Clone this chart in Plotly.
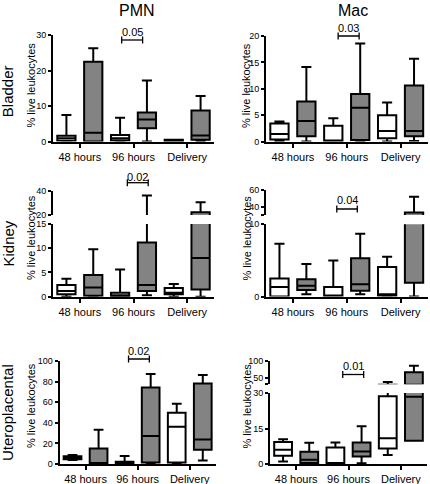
import plotly.graph_objects as go

W, H = 430, 484

categories = ["48 hours", "96 hours", "Delivery"]
col_titles = ["PMN", "Mac"]
row_titles = ["Bladder", "Kidney", "Uteroplacental"]
y_title = "% live leukocytes"

# each entry: [lower whisker, Q1, median, Q3, upper whisker] for 48 hours, 96 hours, Delivery
# "ctrl" = white boxes, "inf" = grey boxes
pmn_bladder_ctrl = [[0, 0.2, 0.9, 1.6, 7.5], [0, 0.3, 0.9, 1.8, 6.7], [0, 0.1, 0.3, 0.5, 0.5]]
pmn_bladder_inf = [[0, 0, 2.5, 22.5, 26.3], [0, 3.7, 6.2, 8.2, 17.2], [0, 0.5, 1.7, 8.7, 12.8]]
mac_bladder_ctrl = [[0, 0.4, 1.4, 3.4, 3.8], [0, 0, 0, 3.0, 4.4], [0, 0.6, 2.0, 5.0, 7.4]]
mac_bladder_inf = [[0, 1.0, 3.9, 7.6, 14.1], [0, 0.3, 6.4, 9.0, 18.6], [0.1, 1.0, 2.0, 10.6, 15.7]]
pmn_kidney_ctrl = [[0, 0.5, 1.2, 2.4, 3.7], [0, 0, 0.3, 0.8, 5.6], [0, 0.5, 0.8, 1.8, 2.6]]
pmn_kidney_inf = [[0, 0.2, 1.9, 4.5, 9.8], [0.3, 1.2, 2.4, 11.2, 36.0], [0, 1.5, 8.0, 22.2, 30.4]]
mac_kidney_ctrl = [[0, 0, 1.3, 2.5, 7.3], [0, 0, 0, 1.3, 5.0], [0, 0.1, 0.3, 4.1, 5.5]]
mac_kidney_inf = [[0.3, 0.9, 1.5, 2.4, 4.5], [0.3, 0.8, 1.7, 5.3, 8.7], [0, 1.9, 15.0, 33.0, 52.0]]
pmn_utero_ctrl = [[3.8, 4.5, 6.0, 7.5, 8.7], [0, 0, 0.5, 2.2, 7.7], [0, 1.5, 36.2, 49.7, 58.6]]
pmn_utero_inf = [[0, 0, 1.0, 15.0, 33.3], [0, 1.5, 27.2, 74.3, 87.5], [3.5, 13.8, 23.7, 78.2, 86.5]]
mac_utero_ctrl = [[1.1, 3.5, 6.0, 9.3, 10.5], [0, 0, 0, 7.0, 9.1], [3.8, 6.6, 10.9, 28.6, 36.8]]
mac_utero_inf = [[0, 0.4, 1.8, 5.2, 9.0], [0.3, 3.2, 5.3, 9.1, 16.0], [9.8, 9.8, 28.4, 65.6, 85.0]]

p_values = ["0.05", "0.03", "0.02", "0.04", "0.02", "0.01"]

FONT = "Liberation Sans, Arial, Helvetica, sans-serif"
WHITE = "#ffffff"
GREY = "#838383"


def px(x):
    return x / W


def py(y):
    return 1 - y / H


fig = go.Figure()


def add_boxes(stats, color, offset, xa, ya):
    fig.add_trace(go.Box(
        x=[i + offset for i in range(len(categories))],
        lowerfence=[s[0] for s in stats],
        q1=[s[1] for s in stats],
        median=[s[2] for s in stats],
        q3=[s[3] for s in stats],
        upperfence=[s[4] for s in stats],
        width=0.34, whiskerwidth=0.55,
        fillcolor=color, line=dict(color="black", width=2),
        boxpoints=False, showlegend=False, hoverinfo="skip",
        xaxis=xa, yaxis=ya,
    ))


# panels: (ctrl, inf, x axis, list of y axes)
panels = [
    (pmn_bladder_ctrl, pmn_bladder_inf, "x", ["y"]),
    (mac_bladder_ctrl, mac_bladder_inf, "x2", ["y2"]),
    (pmn_kidney_ctrl, pmn_kidney_inf, "x3", ["y3", "y4"]),
    (mac_kidney_ctrl, mac_kidney_inf, "x4", ["y5", "y6"]),
    (pmn_utero_ctrl, pmn_utero_inf, "x5", ["y7"]),
    (mac_utero_ctrl, mac_utero_inf, "x6", ["y8", "y9"]),
]
for ctrl, inf, xa, yas in panels:
    for ya in yas:
        add_boxes(ctrl, WHITE, -0.25, xa, ya)
        add_boxes(inf, GREY, 0.25, xa, ya)

axis_common = dict(showline=True, linewidth=2, linecolor="black", ticks="outside",
                   tickwidth=2, tickcolor="black", showgrid=False,
                   zeroline=False, fixedrange=True, automargin=False)


def xaxis(left, right, anchor):
    return dict(axis_common, domain=[px(left), px(right)], anchor=anchor, ticklen=4,
                range=[-0.5, 2.5], tickvals=[0, 1, 2], ticktext=categories,
                tickfont=dict(family=FONT, size=11, color="black"))


def yaxis(top, bottom, anchor, rng, tv, tt=None):
    return dict(axis_common, domain=[py(bottom), py(top)], anchor=anchor, ticklen=3,
                range=rng, tickvals=tv, ticktext=tt if tt else [str(v) for v in tv],
                tickfont=dict(family=FONT, size=9, color="black"))


L1, R1 = 53, 214
L2, R2 = 266, 427.5
L3, R3 = 59.5, 215.8
L4, R4 = 270, 427

layout_axes = dict(
    xaxis=xaxis(L1, R1, "y"),
    yaxis=yaxis(35, 141.5, "x", [0, 30], [0, 10, 20, 30]),
    xaxis2=xaxis(L2, R2, "y2"),
    yaxis2=yaxis(36, 141.5, "x2", [0, 20], [0, 5, 10, 15, 20]),
    xaxis3=xaxis(L1, R1, "y3"),
    yaxis3=yaxis(224, 296.7, "x3", [0, 15], [0, 5, 10, 15]),
    yaxis4=yaxis(190.7, 215, "x3", [20, 40], [20, 40]),
    xaxis4=xaxis(L2, R2, "y5"),
    yaxis5=yaxis(224.3, 296.5, "x4", [0, 10], [0, 10]),
    yaxis6=yaxis(190, 215, "x4", [30, 60], [30, 40, 60], ["", "40", "60"]),
    xaxis5=xaxis(L3, R3, "y7"),
    yaxis7=yaxis(361, 464, "x5", [0, 100], [0, 20, 40, 60, 80, 100]),
    xaxis6=xaxis(L4, R4, "y8"),
    yaxis8=yaxis(393, 464, "x6", [0, 30], [0, 15, 30]),
    yaxis9=yaxis(360.7, 384.3, "x6", [30, 100], [30, 50, 100], ["", "50", "100"]),
)

annotations = []
shapes = []


def ann(text, x, y, size, xref="paper", angle=0):
    annotations.append(dict(text=text, x=x, y=y, xref=xref, yref="paper",
                            xanchor="center", yanchor="middle", showarrow=False,
                            textangle=angle, font=dict(family=FONT, size=size, color="black")))


# column titles
for t, xc in zip(col_titles, [137, 353]):
    ann(t, px(xc), py(10), 16)
# row titles
for t, yc in zip(row_titles, [91.7, 244, 412.5]):
    ann(t, px(7.5), py(yc), 15, angle=-90)
# y axis titles
for xc in [30.5, 246]:
    for yc in [85, 237.5, 405.5]:
        ann(y_title, px(xc), py(yc), 11, angle=-90)

# significance brackets: (x axis, x0, x1 in category units, bracket y pixel, label y pixel)
brackets = [
    ("x", 0.78, 1.17, 40, 31.7),
    ("x2", 0.84, 1.23, 36, 28.3),
    ("x3", 0.885, 1.274, 182.7, 177),
    ("x4", 0.815, 1.196, 209, 200),
    ("x5", 0.825, 1.224, 359, 351.3),
    ("x6", 0.89, 1.29, 374.5, 366.3),
]
for (xa, x0, x1, yb, yt), lab in zip(brackets, p_values):
    line = dict(color="black", width=1.3)
    shapes.append(dict(type="line", xref=xa, yref="paper", x0=x0, x1=x1,
                       y0=py(yb), y1=py(yb), line=line))
    for xe in (x0, x1):
        shapes.append(dict(type="line", xref=xa, yref="paper", x0=xe, x1=xe,
                           y0=py(yb - 3.5), y1=py(yb + 3.5), line=line))
    ann(lab, (x0 + x1) / 2, py(yt), 11, xref=xa)

fig.update_layout(
    template="none",
    width=W, height=H, margin=dict(l=0, r=0, t=0, b=0, autoexpand=False),
    paper_bgcolor="white", plot_bgcolor="white",
    boxmode="overlay", showlegend=False,
    annotations=annotations, shapes=shapes,
    font=dict(family=FONT, color="black"),
    **layout_axes,
)

fig.write_html("out.html", config={"displayModeBar": False},
               post_script="document.body.style.margin='0px';")
